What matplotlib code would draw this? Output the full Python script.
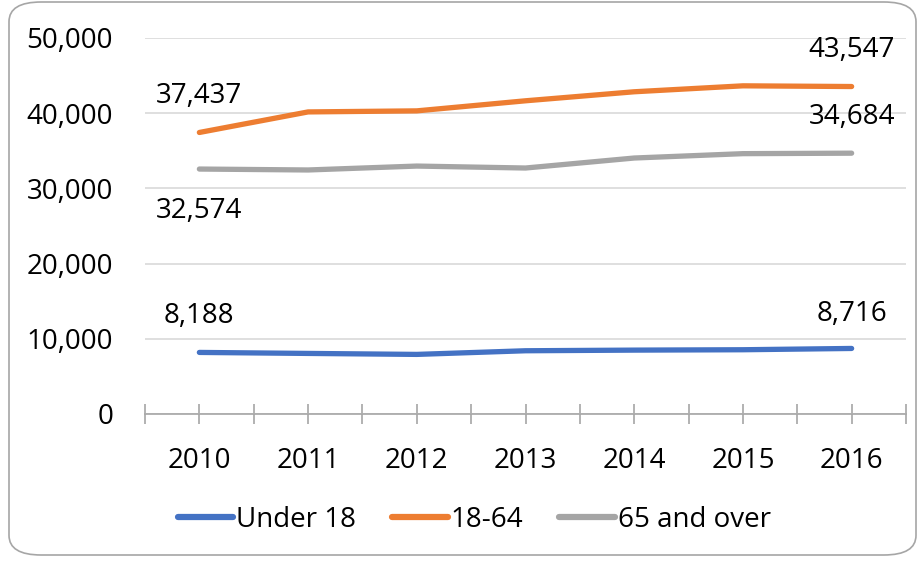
import matplotlib.pyplot as plt
from matplotlib.patches import FancyBboxPatch
from matplotlib.ticker import FuncFormatter, FixedLocator

plt.rcParams['font.family'] = ['Open Sans', 'DejaVu Sans']

# Population by age group
years = ['2010', '2011', '2012', '2013', '2014', '2015', '2016']
under_18 = [8188, 8055, 7925, 8410, 8495, 8545, 8716]
age_18_64 = [37437, 40170, 40310, 41650, 42850, 43640, 43547]
age_65_over = [32574, 32450, 32970, 32710, 34040, 34620, 34684]

series = [
    ('Under 18', under_18, '#4472C4'),
    ('18-64', age_18_64, '#ED7D31'),
    ('65 and over', age_65_over, '#A5A5A5'),
]

fig = plt.figure(figsize=(9.19, 5.61), dpi=100)

# rounded chart frame, kept behind the axes
W, H = 919, 561
frame = FancyBboxPatch((9 / W, 6 / H), 907 / W, 553 / H,
                       boxstyle='round,pad=0,rounding_size=0.035',
                       transform=fig.transFigure, facecolor='white',
                       edgecolor='#a6a6a6', linewidth=1.2, zorder=-10)
fig.patches.append(frame)

ax = fig.add_axes([145 / W, 1 - 414 / H, (906 - 145) / W, (414 - 38) / H])
ax.set_facecolor('none')

x = list(range(len(years)))
for name, vals, color in series:
    ax.plot(x, vals, color=color, lw=3.8, solid_capstyle='round',
            solid_joinstyle='round', label=name, zorder=3)

ax.set_xlim(-0.5, len(years) - 0.5)
ax.set_ylim(0, 50000)
ax.set_yticks(range(0, 50001, 10000))
ax.yaxis.set_major_formatter(FuncFormatter(lambda v, p: f'{int(v):,}'))
ax.set_xticks(x)
ax.set_xticklabels(years)
ax.xaxis.set_minor_locator(FixedLocator([i - 0.5 for i in range(len(years) + 1)]))

ax.grid(axis='y', color='#d9d9d9', lw=1.2)
ax.set_axisbelow(True)
for s in ['top', 'right', 'left']:
    ax.spines[s].set_visible(False)
ax.spines['bottom'].set_color('#a6a6a6')
ax.spines['bottom'].set_linewidth(1.2)

ax.tick_params(axis='y', length=0, labelsize=20, pad=23)
ax.tick_params(axis='x', which='both', direction='inout', length=14,
               color='#a6a6a6', width=1.2, labelsize=20, pad=17)

# value labels at the first and last year
label_offsets = {
    'Under 18': (26, 25),
    '18-64': (26, 26),
    '65 and over': (-30, 26),
}
for name, vals, color in series:
    dy0, dy1 = label_offsets[name]
    ax.annotate(f'{vals[0]:,}', (x[0], vals[0]), xytext=(0, dy0),
                textcoords='offset points', ha='center', va='center',
                fontsize=20, color='black')
    ax.annotate(f'{vals[-1]:,}', (x[-1], vals[-1]), xytext=(0, dy1),
                textcoords='offset points', ha='center', va='center',
                fontsize=20, color='black')

leg = fig.legend(loc='center', bbox_to_anchor=(0.516, 1 - 520 / H), ncol=3,
                 frameon=False, fontsize=20, handlelength=2.0,
                 handletextpad=0.1, columnspacing=1.3)
for line in leg.get_lines():
    line.set_linewidth(4.5)
    line.set_solid_capstyle('round')

fig.savefig('out.png', dpi=100)
